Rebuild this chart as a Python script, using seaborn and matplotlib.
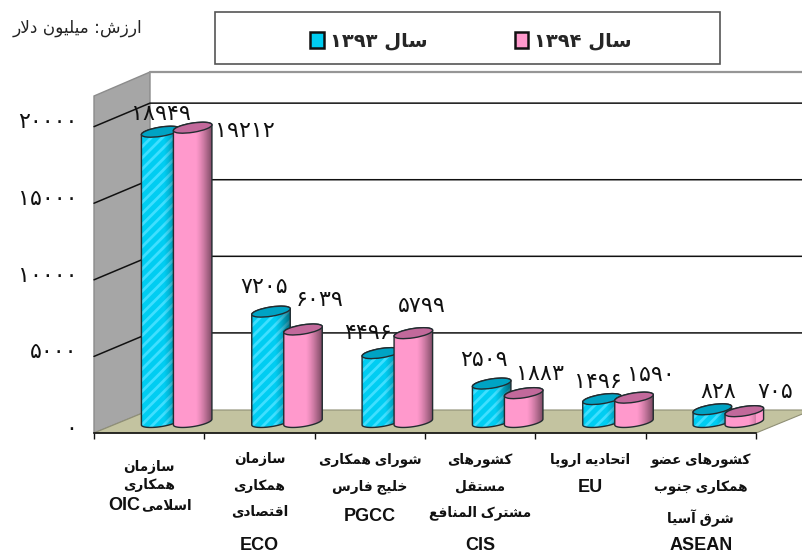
import numpy as np
import pandas as pd
import matplotlib
matplotlib.use('Agg')
import matplotlib.pyplot as plt
import seaborn as sns
from matplotlib.path import Path
from matplotlib.patches import PathPatch, Polygon, Ellipse, Rectangle
from matplotlib.transforms import Affine2D, ScaledTranslation

# داده‌ها
categories = ['سازمان\nهمکاری', 'سازمان\nهمکاری\nاقتصادی', 'شورای همکاری\nخلیج فارس',
              'کشورهای\nمستقل\nمشترک المنافع', 'اتحادیه اروپا', 'کشورهای عضو\nهمکاری جنوب\nشرق آسیا']
acronyms = ['OIC', 'ECO', 'PGCC', 'CIS', 'EU', 'ASEAN']
values_1393 = [18949, 7205, 4496, 2509, 1496, 828]
values_1394 = [19212, 6039, 5799, 1883, 1590, 705]
series_names = ['سال ۱۳۹۳', 'سال ۱۳۹۴']
y_ticks = [0, 5000, 10000, 15000, 20000]
unit_label = 'ارزش: میلیون دلار'
oic_word = 'اسلامی'

# matplotlib shapes no Arabic, so letters go to presentation forms by hand
FORMS = {'ا': 'ﺍﺎ', 'آ': 'ﺁﺂ', 'د': 'ﺩﺪ', 'ر': 'ﺭﺮ', 'ز': 'ﺯﺰ', 'و': 'ﻭﻮ',
         'ب': 'ﺏﺐﺑﺒ', 'پ': 'ﭖﭗﭘﭙ', 'ت': 'ﺕﺖﺗﺘ', 'ج': 'ﺝﺞﺟﺠ', 'ح': 'ﺡﺢﺣﺤ', 'خ': 'ﺥﺦﺧﺨ',
         'س': 'ﺱﺲﺳﺴ', 'ش': 'ﺵﺶﺷﺸ', 'ص': 'ﺹﺺﺻﺼ', 'ض': 'ﺽﺾﺿﻀ', 'ع': 'ﻉﻊﻋﻌ', 'ف': 'ﻑﻒﻓﻔ',
         'ق': 'ﻕﻖﻗﻘ', 'ک': 'ﮎﮏﮐﮑ', 'ل': 'ﻝﻞﻟﻠ', 'م': 'ﻡﻢﻣﻤ', 'ن': 'ﻥﻦﻧﻨ', 'ه': 'ﻩﻪﻫﻬ',
         'ی': 'ﯼﯽﯾﯿ'}


def shape_word(word):
    out = []
    i = 0
    prev_joins = False
    while i < len(word):
        ch = word[i]
        if ch not in FORMS:
            out.append(ch)
            prev_joins = False
            i += 1
            continue
        if ch == 'ل' and i + 1 < len(word) and word[i + 1] == 'ا':
            out.append('\ufefc' if prev_joins else '\ufefb')
            prev_joins = False
            i += 2
            continue
        forms = FORMS[ch]
        next_ok = i + 1 < len(word) and word[i + 1] in FORMS
        if len(forms) == 2:
            out.append(forms[1] if prev_joins else forms[0])
            prev_joins = False
        else:
            if prev_joins:
                out.append(forms[3] if next_ok else forms[1])
            else:
                out.append(forms[2] if next_ok else forms[0])
            prev_joins = True
        i += 1
    return ''.join(out)


def fa(text):
    lines = []
    for line in text.split('\n'):
        words = []
        for w in reversed(line.split(' ')):
            if any(c in FORMS for c in w):
                words.append(shape_word(w)[::-1])
            else:
                words.append(w)
        lines.append(' '.join(words))
    return '\n'.join(lines)


def fa_num(v):
    return str(v).translate(str.maketrans('0123456789', '۰۱۲۳۴۵۶۷۸۹'))


sns.set_style('white')
plt.rcParams['font.family'] = ['Liberation Sans', 'DejaVu Sans']
plt.rcParams['hatch.linewidth'] = 2.0

W, H = 802, 552
fig = plt.figure(figsize=(W / 100, H / 100), dpi=100)
ax = fig.add_axes([94 / W, (H - 433) / H, 662 / W, 337 / H])
ax.set_facecolor('none')

# picture pixels (y down) -> display
px = Affine2D().scale(1, -1).translate(0, H)

df = pd.DataFrame({
    'category': [fa(c) for c in categories] * 2,
    'value': values_1393 + values_1394,
    'year': [fa(series_names[0])] * 6 + [fa(series_names[1])] * 6,
})
palette = ['#00cdf2', '#ff99cc']
stripe_color = '#3fdfff'
sns.barplot(data=df, x='category', y='value', hue='year', palette=palette, saturation=1,
            width=0.58, linewidth=0, edgecolor=stripe_color, errorbar=None, ax=ax)
ax.set_xlim(-0.5, 5.5)
ax.set_ylim(0, 22000)


def to_px(x, y):
    d = ax.transData.transform((x, y))
    return d[0], H - d[1]


# room: wall, back wall, floor
ax.add_patch(Polygon([(94, 96), (150, 72), (150, 410), (94, 433)], closed=True, transform=px, clip_on=False,
                     facecolor='#a6a6a6', edgecolor='#8c8c8c', lw=1, zorder=0.5))
ax.add_patch(Polygon([(94, 433), (756, 433), (812, 410), (150, 410)], closed=True, transform=px, clip_on=False,
                     facecolor='#c3c3a0', edgecolor='#8f8f75', lw=0.8, zorder=0.6))
ax.plot([150, 802], [72, 72], color='#969696', lw=1.6, transform=px, clip_on=False, zorder=0.7)
for t in y_ticks[1:]:
    _, yf = to_px(0, t)
    ax.plot([94, 150, 802], [yf, yf - 23.5, yf - 23.5], color='#111111', lw=1.1, transform=px,
            clip_on=False, zorder=0.8)

# cylinders around the seaborn bars
half_w = 19.5
half_h = 4.6
tilt = np.deg2rad(-9)
bar_shift = (27.5, -11)
cap_colors = ['#00a3c4', '#c2699b']
stripes = ['///', None]
edge_dark = '#222c30'
grad = np.zeros((1, 80, 4))
pos = np.linspace(0, 1, 80)
grad[0, :, 3] = np.clip((pos - 0.58) / 0.42, 0, 1) ** 1.3 * 0.55 + np.clip(0.08 - pos, 0, 1) * 1.2

label_dx = [[0, -7, -13, -8, -4, 6], [52, 17, 8, 16, 17, 31]]
label_dy = [[-18, -25, -20, -24, -17, -17], [3, -29, -27, -19, -23, -19]]


def ring(cx, cy, t):
    x = cx + half_w * np.cos(t) * np.cos(tilt) - half_h * np.sin(t) * np.sin(tilt)
    y = cy + half_w * np.cos(t) * np.sin(tilt) + half_h * np.sin(t) * np.cos(tilt)
    return np.column_stack([x, y])


shift_tr = Affine2D().translate(bar_shift[0], -bar_shift[1])
for h, container in enumerate(ax.containers):
    z = 3 + 2 * h
    vals = [values_1393, values_1394][h]
    for i, bar in enumerate(container):
        mid = bar.get_x() + bar.get_width() / 2
        wid = 2 * half_w / (662 / 6)
        bar.set_x(mid - wid / 2)
        bar.set_width(wid)
        bar.set_transform(ax.transData + shift_tr)
        cx, y0 = to_px(mid, 0)
        _, y1 = to_px(mid, vals[i])
        cx += bar_shift[0]
        y0 += bar_shift[1]
        y1 += bar_shift[1]
        low = ring(cx, y0, np.linspace(np.pi, 0, 40))
        up = ring(cx, y1, np.linspace(0, -np.pi, 40))
        body = Path(np.vstack([low, up, low[:1]]), closed=True)
        bar.set_zorder(z)
        bar.set_clip_path(body, px)
        ax.add_patch(PathPatch(body, transform=px, facecolor=palette[h], edgecolor=stripe_color, hatch=stripes[h],
                               lw=0, clip_on=False, zorder=z + 0.1))
        im = ax.imshow(grad, extent=(cx - half_w - 1, cx + half_w + 1, y0 + 8, y1 - 8), transform=px,
                       aspect='auto', zorder=z + 0.2)
        im.set_clip_path(body, px)
        ax.add_patch(PathPatch(body, transform=px, fill=False, edgecolor=edge_dark, lw=1, clip_on=False,
                               zorder=z + 0.3))
        ax.add_patch(Ellipse((cx, y1), 2 * half_w, 2 * half_h, angle=np.rad2deg(tilt), transform=px,
                             facecolor=cap_colors[h], edgecolor=edge_dark, lw=1, clip_on=False, zorder=z + 0.4))
        ax.text(cx + label_dx[h][i], y1 + label_dy[h][i], fa_num(vals[i]), transform=px, ha='center', va='center',
                fontsize=16, family=['DejaVu Sans'], color='#111111', clip_on=False, zorder=10)

ax.set_xlim(-0.5, 5.5)
ax.set_ylim(0, 22000)

# axes
sns.despine(ax=ax, left=True)
ax.spines['bottom'].set_color('#111111')
ax.spines['bottom'].set_linewidth(1.2)
ax.spines['bottom'].set_zorder(1)
ax.set_xlabel('')
ax.set_ylabel('')
ax.set_yticks(y_ticks)
ax.set_yticklabels([fa_num(t) for t in y_ticks], fontsize=16, family=['DejaVu Sans'], color='#111111')
ax.tick_params(axis='y', length=0, pad=12, left=False)
for lab in ax.get_yticklabels():
    lab.set_transform(lab.get_transform() + ScaledTranslation(0, 4.5 / 72, fig.dpi_scale_trans))
ax.set_xticks(np.arange(-0.5, 6), minor=True)
ax.tick_params(axis='x', which='minor', length=4, width=1, color='#111111', bottom=True)
ax.tick_params(axis='x', which='major', length=0, pad=14, labelsize=9.8)
for i, lab in enumerate(ax.get_xticklabels()):
    lab.set_fontweight('bold')
    lab.set_color('#111111')
    lab.set_verticalalignment('top')
    lab.set_linespacing(1.35 if i == 0 else 2.1)
ax.xaxis.get_major_ticks()[0].set_pad(19.5)

# acronym line under each Persian label
for i, name in enumerate(acronyms):
    n_lines = categories[i].count('\n') + 1
    x_c = to_px(i, 0)[0]
    y_c = 459 + 28.7 * n_lines
    if i == 0:
        ax.text(166, 505, fa(oic_word), transform=px, ha='center', va='center', fontsize=9.8, fontweight='bold',
                color='#111111', clip_on=False)
        x_c, y_c = 124, 505
    ax.text(x_c, y_c, name, transform=px, ha='center', va='center', fontsize=13, fontweight='bold',
            color='#111111', clip_on=False)

# legend
ax.add_patch(Rectangle((215, 12), 505, 52, transform=px, facecolor='white', edgecolor='#555555', lw=1.2,
                       clip_on=False, zorder=1))
sns.move_legend(ax, 'center', bbox_to_anchor=(471 / W, (H - 41) / H), bbox_transform=fig.transFigure, ncol=2,
                title=None, frameon=False, fontsize=14, handlelength=0.7, handleheight=0.85, handletextpad=0.3,
                columnspacing=4.5, prop={'family': ['DejaVu Sans'], 'weight': 'bold', 'size': 14})
leg = ax.get_legend()
for handle, color in zip(leg.legend_handles, palette):
    handle.set_edgecolor('#111111')
    handle.set_linewidth(1.8)
    handle.set_facecolor(color)

fig.text(142 / W, (H - 28) / H, fa(unit_label), ha='right', va='center', fontsize=12.2, family=['DejaVu Sans'],
         color='#222222')

fig.savefig('out.png', dpi=100, facecolor='white')
